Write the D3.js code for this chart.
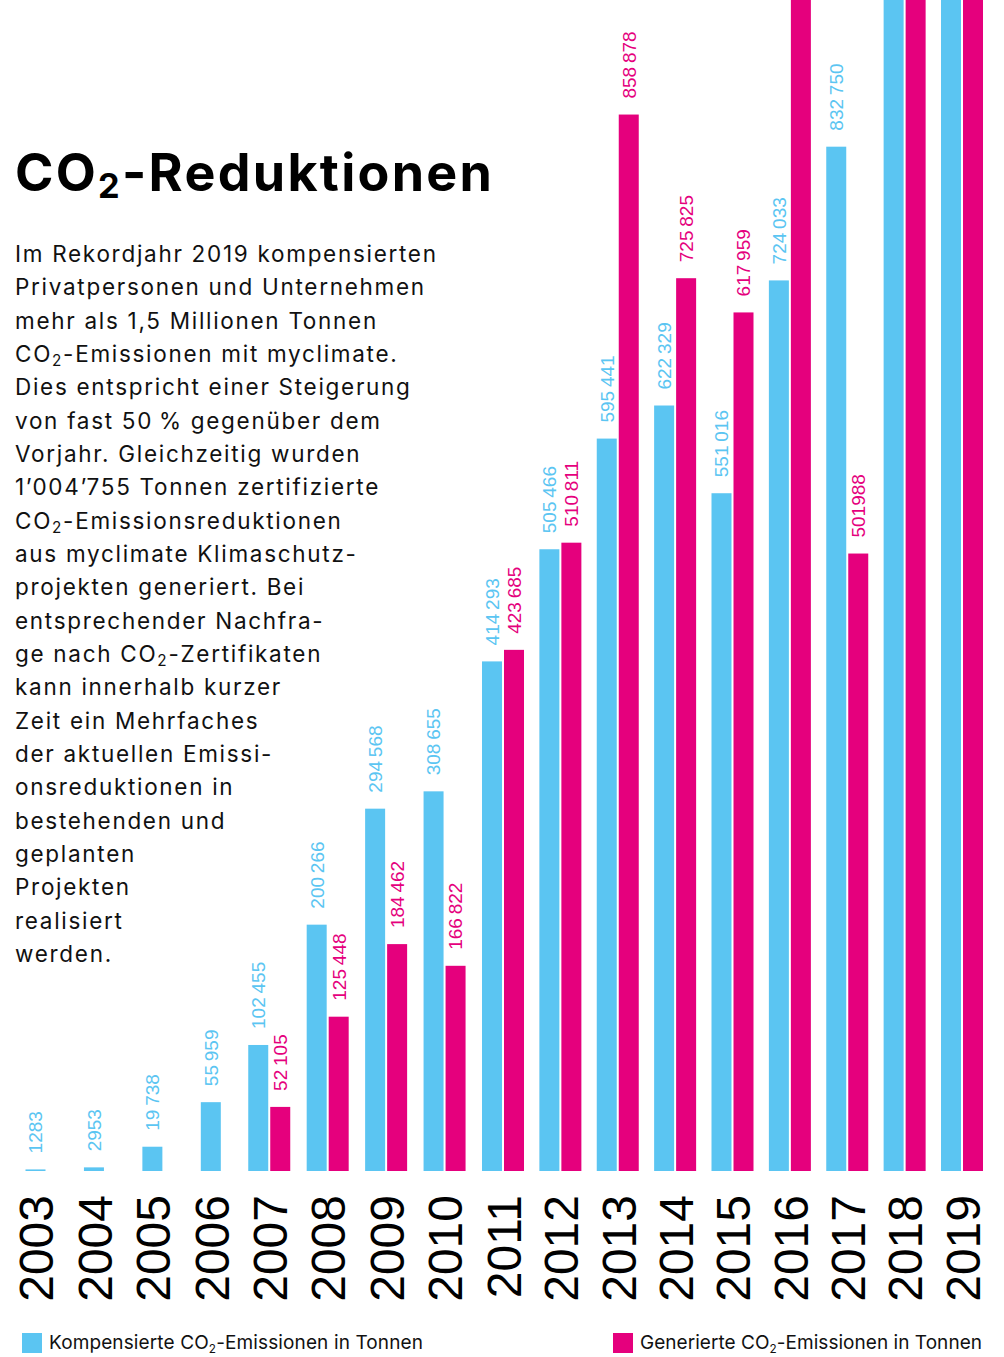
<!DOCTYPE html>
<html>
<head>
<meta charset="utf-8">
<script src="https://cdn.jsdelivr.net/npm/d3@7"></script>
<style>
  html, body { margin: 0; padding: 0; background: #fff; }
  svg { display: block; }
</style>
</head>
<body>
<svg id="chart" width="1004" height="1357"></svg>
<script>
// ---------- data ----------
const years = [2003, 2004, 2005, 2006, 2007, 2008, 2009, 2010, 2011, 2012, 2013, 2014, 2015, 2016, 2017, 2018, 2019];
// Kompensierte CO2-Emissionen in Tonnen (2018/2019 run off the top of the chart; estimated)
const compensated = [1283, 2953, 19738, 55959, 102455, 200266, 294568, 308655, 414293, 505466, 595441, 622329, 551016, 724033, 832750, 1030000, 1530000];
// Generierte CO2-Emissionen in Tonnen, as drawn (2016/2018/2019 run off the top; estimated)
const generated = [null, null, null, null, 52105, 125448, 184462, 166822, 423685, 510811, 858878, 725825, 698000, 1010000, 501988, 1150000, 1004755];
const compensatedLabels = ["1283", "2953", "19\u2009738", "55\u2009959", "102\u2009455", "200\u2009266", "294\u2009568", "308\u2009655", "414\u2009293", "505\u2009466", "595\u2009441", "622\u2009329", "551\u2009016", "724\u2009033", "832\u2009750", "", ""];
const generatedLabels = ["", "", "", "", "52\u2009105", "125\u2009448", "184\u2009462", "166\u2009822", "423\u2009685", "510\u2009811", "858\u2009878", "725\u2009825", "617\u2009959", "", "501988", "", ""];

const titleText = "CO₂-Reduktionen";
const bodyLines = [
  "Im Rekordjahr 2019 kompensierten",
  "Privatpersonen und Unternehmen",
  "mehr als 1,5 Millionen Tonnen",
  "CO₂-Emissionen mit myclimate.",
  "Dies entspricht einer Steigerung",
  "von fast 50\u2009% gegenüber dem",
  "Vorjahr. Gleichzeitig wurden",
  "1’004’755 Tonnen zertifizierte",
  "CO₂-Emissionsreduktionen",
  "aus myclimate Klimaschutz-",
  "projekten generiert. Bei",
  "entsprechender Nachfra-",
  "ge nach CO₂-Zertifikaten",
  "kann innerhalb kurzer",
  "Zeit ein Mehrfaches",
  "der aktuellen Emissi-",
  "onsreduktionen in",
  "bestehenden und",
  "geplanten",
  "Projekten",
  "realisiert",
  "werden."
];
const legendItems = ["Kompensierte CO₂-Emissionen in Tonnen", "Generierte CO₂-Emissionen in Tonnen"];

// ---------- setup ----------
const BLUE = "#5bc5f2";
const MAGENTA = "#e5007d";
const W = 1004, H = 1357;
const baseY = 1171;
const svg = d3.select("#chart");

// group centres (slightly uneven spacing in the original layout)
const x = d3.scaleLinear().domain([2003, 2011, 2019]).range([35.5, 503, 962]);
const y = d3.scaleLinear().domain([0, 952000]).range([baseY, 0]);

const data = years.map((yr, i) => ({
  year: yr, comp: compensated[i], gen: generated[i],
  compLabel: compensatedLabels[i], genLabel: generatedLabels[i]
}));

const barW = 20, gap = 1;
function center(d) { return x(d.year); }
function compX(d) { return d.gen == null ? center(d) - barW / 2 : center(d) - gap - barW; }
function genX(d) { return center(d) + gap; }

const chart = svg.append("g");
svg.append("defs").append("clipPath").attr("id", "clip")
  .append("rect").attr("x", 0).attr("y", 0).attr("width", W).attr("height", baseY);
const bars = chart.append("g").attr("clip-path", "url(#clip)");

bars.selectAll("rect.comp").data(data).join("rect")
  .attr("class", "comp")
  .attr("x", compX).attr("width", barW)
  .attr("y", d => y(d.comp)).attr("height", d => baseY - y(d.comp))
  .attr("fill", BLUE);

bars.selectAll("rect.gen").data(data.filter(d => d.gen != null)).join("rect")
  .attr("class", "gen")
  .attr("x", genX).attr("width", barW)
  .attr("y", d => y(d.gen)).attr("height", d => baseY - y(d.gen))
  .attr("fill", MAGENTA);

// value labels
const labelFont = "'Liberation Sans', Arial, sans-serif";
const labelGap = 16;
chart.selectAll("text.compLabel").data(data.filter(d => d.compLabel)).join("text")
  .attr("class", "compLabel")
  .attr("transform", d => `translate(${compX(d) + barW / 2},${y(d.comp) - labelGap}) rotate(-90)`)
  .attr("dy", "0.36em")
  .attr("text-anchor", "start")
  .attr("font-family", labelFont).attr("font-size", 19)
  .attr("fill", BLUE)
  .text(d => d.compLabel);

chart.selectAll("text.genLabel").data(data.filter(d => d.genLabel)).join("text")
  .attr("class", "genLabel")
  .attr("transform", d => `translate(${genX(d) + barW / 2},${y(d.gen) - labelGap}) rotate(-90)`)
  .attr("dy", "0.36em")
  .attr("text-anchor", "start")
  .attr("font-family", labelFont).attr("font-size", 19)
  .attr("fill", MAGENTA)
  .text(d => d.genLabel);

// year axis labels (rotated)
const xAxis = d3.axisBottom(x).tickValues(years).tickFormat(d3.format("d")).tickSize(0).tickPadding(0);
const axisG = chart.append("g").attr("transform", `translate(0,1195)`).call(xAxis);
axisG.select(".domain").remove();
axisG.selectAll(".tick text")
  .attr("transform", "rotate(-90)")
  .attr("y", 0).attr("x", 0)
  .attr("dy", "0.36em")
  .attr("text-anchor", "end")
  .attr("font-family", "'Liberation Sans', Arial, sans-serif")
  .attr("font-size", 48)
  .attr("fill", "#000");

// ---------- text helpers ----------
function richText(sel, str, fs, subScale, subDy) {
  const parts = str.split("₂");
  let pending = 0;
  parts.forEach((p, i) => {
    if (p) {
      const t = sel.append("tspan").text(p);
      if (pending) { t.attr("dy", pending); pending = 0; }
    }
    if (i < parts.length - 1) {
      sel.append("tspan").attr("font-size", fs * subScale).attr("dy", subDy).text("2");
      pending = -subDy;
    }
  });
}
function fitSpacing(textSel, target) {
  const n = textSel.text().length;
  const w = textSel.node().getComputedTextLength();
  return (target - w) / Math.max(1, n - 1);
}

const textFont = "Inter, 'Noto Sans', sans-serif";

// title
const title = svg.append("text")
  .attr("x", 15).attr("y", 191)
  .attr("font-family", textFont).attr("font-weight", 700).attr("font-size", 52)
  .attr("fill", "#000");
richText(title, titleText, 52, 0.66, 7);
title.attr("letter-spacing", fitSpacing(title, 477));

// body
const bodyFs = 22.5;
const bodyG = svg.append("g")
  .attr("font-family", textFont).attr("font-size", bodyFs).attr("fill", "#111");
const probe = bodyG.append("text").attr("x", 15).attr("y", 262).text(bodyLines[0]);
const bsp = fitSpacing(probe, 421);
probe.remove();
bodyLines.forEach((line, i) => {
  const t = bodyG.append("text").attr("x", 15).attr("y", 262 + i * 33.33)
    .attr("letter-spacing", bsp);
  richText(t, line, bodyFs, 0.68, 4);
});

// legend
const legFs = 19;
const legendX = [22, 613];
const legendColors = [BLUE, MAGENTA];
const legendEnds = [423, 982];
legendItems.forEach((txt, i) => {
  svg.append("rect").attr("x", legendX[i]).attr("y", 1333)
    .attr("width", 20).attr("height", 20).attr("fill", legendColors[i]);
  const t = svg.append("text").attr("x", legendX[i] + 27).attr("y", 1349)
    .attr("font-family", textFont).attr("font-size", legFs).attr("fill", "#111");
  richText(t, txt, legFs, 0.62, 4);
  t.attr("letter-spacing", fitSpacing(t, legendEnds[i] - legendX[i] - 27));
});
</script>
</body>
</html>
